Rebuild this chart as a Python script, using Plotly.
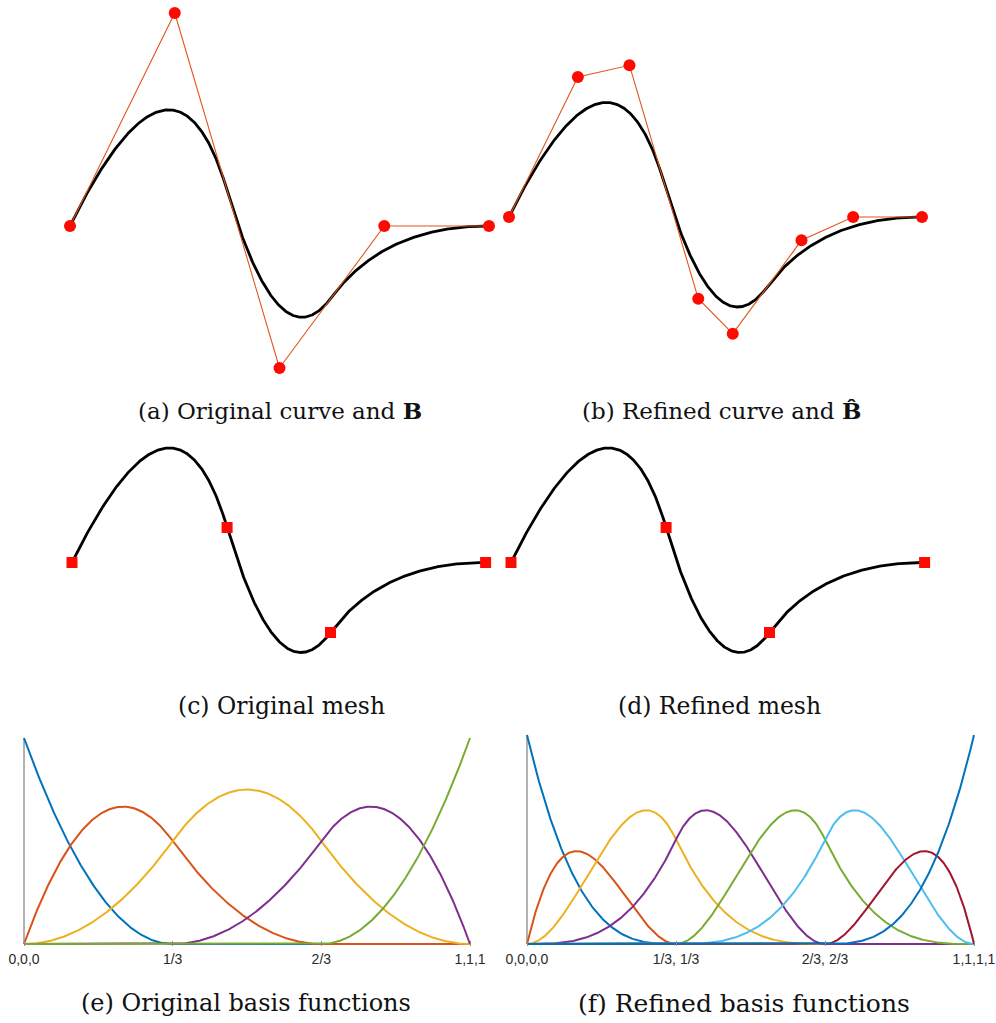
import numpy as np
import plotly.graph_objects as go

W, H = 996, 1023

# Original quadratic B-spline: knot vector and control points B
knots_orig = [0, 0, 0, 1/3, 2/3, 1, 1, 1]
ctrl_x_orig = [0, 1, 2, 3, 4]
ctrl_y_orig = [0, 3, -2, 0, 0]

# Degree-elevated (cubic) B-spline: knot vector and control points B-hat
knots_ref = [0, 0, 0, 0, 1/3, 1/3, 2/3, 2/3, 1, 1, 1, 1]
ctrl_x_ref = [0, 0.667, 1.167, 1.833, 2.167, 2.833, 3.333, 4]
ctrl_y_ref = [0, 2.0, 2.167, -1.167, -1.667, -0.333, 0, 0]

tick_vals = [0, 1/3, 2/3, 1]
tick_text_orig = ["0,0,0", "1/3", "2/3", "1,1,1"]
tick_text_ref = ["0,0,0,0", "1/3, 1/3", "2/3, 2/3", "1,1,1,1"]

captions = ["(a) Original curve and <b>B</b>", "(b) Refined curve and <b>B\u0302</b>",
            "(c) Original mesh", "(d) Refined mesh",
            "(e) Original basis functions", "(f) Refined basis functions"]

palette = ["#0072BD", "#D95319", "#EDB120", "#7E2F8E", "#77AC30", "#4DBEEE", "#A2142F"]


def bspline_basis(knots, p, u):
    """Cox-de Boor recursion; returns array (n_basis, len(u))."""
    t = np.asarray(knots, float)
    u = np.asarray(u, float)
    m = len(t) - 1
    N = np.zeros((m, u.size))
    for i in range(m):
        if t[i] < t[i + 1]:
            N[i] = ((u >= t[i]) & (u < t[i + 1])).astype(float)
    last = max(i for i in range(m) if t[i] < t[i + 1])
    N[last, u >= t[-1]] = 1.0
    for k in range(1, p + 1):
        Nk = np.zeros((m - k, u.size))
        for i in range(m - k):
            d1 = t[i + k] - t[i]
            if d1 > 0:
                Nk[i] += (u - t[i]) / d1 * N[i]
            d2 = t[i + k + 1] - t[i + 1]
            if d2 > 0:
                Nk[i] += (t[i + k + 1] - u) / d2 * N[i + 1]
        N = Nk
    return N


def curve(knots, cx, cy, u):
    p = len(knots) - len(cx) - 1
    N = bspline_basis(knots, p, u)
    return np.asarray(cx) @ N, np.asarray(cy) @ N


u = np.linspace(0, 1, 601)
mesh_u = np.array(sorted(set(knots_orig)))
mesh_u_ref = np.array(sorted(set(knots_ref)))

fig = go.Figure()
layout = {}


def place(idx, box, origin, scale, visible=False):
    L, R, T, B = box
    x0, y0 = origin
    sx, sy = scale
    sfx = "" if idx == 1 else str(idx)
    layout["xaxis" + sfx] = dict(domain=[L / W, R / W], range=[(L - x0) / sx, (R - x0) / sx],
                                 visible=visible, showgrid=False, zeroline=False, automargin=False,
                                 anchor="y" + sfx, fixedrange=True)
    layout["yaxis" + sfx] = dict(domain=[1 - B / H, 1 - T / H], range=[(y0 - B) / sy, (y0 - T) / sy],
                                 visible=False, showgrid=False, zeroline=False, automargin=False,
                                 anchor="x" + sfx, fixedrange=True)
    return "x" + sfx, "y" + sfx


CURVE = dict(color="black", width=2.8)
POLY = dict(color="#e0561c", width=1.1)
DOT = dict(color="#ff0a00", size=12, line=dict(width=0))
SQUARE = dict(symbol="square", color="#ff0a00", size=11, line=dict(width=0))

# (a) original curve with control polygon
xa, ya = place(1, (30, 499, 0, 385), (70, 226), (104.75, 71))
cx, cy = curve(knots_orig, ctrl_x_orig, ctrl_y_orig, u)
fig.add_trace(go.Scatter(x=cx, y=cy, mode="lines", line=CURVE, xaxis=xa, yaxis=ya))
fig.add_trace(go.Scatter(x=ctrl_x_orig, y=ctrl_y_orig, mode="lines+markers", line=POLY,
                         marker=DOT, xaxis=xa, yaxis=ya))

# (b) refined curve with refined control polygon
xb, yb = place(2, (499, 970, 0, 385), (509, 217), (103.25, 70))
rx, ry = curve(knots_ref, ctrl_x_ref, ctrl_y_ref, u)
fig.add_trace(go.Scatter(x=rx, y=ry, mode="lines", line=CURVE, xaxis=xb, yaxis=yb))
fig.add_trace(go.Scatter(x=ctrl_x_ref, y=ctrl_y_ref, mode="lines+markers", line=POLY,
                         marker=DOT, xaxis=xb, yaxis=yb))

# (c) original mesh
xc, yc = place(3, (30, 499, 425, 690), (72, 562.5), (103.4, 70))
mx, my = curve(knots_orig, ctrl_x_orig, ctrl_y_orig, mesh_u)
fig.add_trace(go.Scatter(x=cx, y=cy, mode="lines", line=CURVE, xaxis=xc, yaxis=yc))
fig.add_trace(go.Scatter(x=mx, y=my, mode="markers", marker=SQUARE, xaxis=xc, yaxis=yc))

# (d) refined mesh
xd, yd = place(4, (499, 970, 425, 690), (511, 562.5), (103.4, 70))
mrx, mry = curve(knots_ref, ctrl_x_ref, ctrl_y_ref, mesh_u_ref)
fig.add_trace(go.Scatter(x=rx, y=ry, mode="lines", line=CURVE, xaxis=xd, yaxis=yd))
fig.add_trace(go.Scatter(x=mrx, y=mry, mode="markers", marker=SQUARE, xaxis=xd, yaxis=yd))


def basis_panel(idx, box, origin, scale, knots, p, ticktext):
    xk, yk = place(idx, box, origin, scale, visible=True)
    sfx = "" if idx == 1 else str(idx)
    layout["xaxis" + sfx].update(showline=False, ticks="inside", ticklen=5, tickwidth=1,
                                 tickcolor="#8c8c8c", tickvals=tick_vals, ticktext=ticktext,
                                 ticklabelstandoff=3,
                                 tickfont=dict(family="Liberation Sans", size=14, color="#2a2a2a"),
                                 showticklabels=True)
    layout.setdefault("shapes", []).append(dict(type="line", xref=xk, yref=yk, x0=0, x1=0, y0=0, y1=1,
                                                line=dict(color="#999999", width=1.5), layer="below"))
    N = bspline_basis(knots, p, u)
    for i in range(N.shape[0]):
        fig.add_trace(go.Scatter(x=u, y=N[i], mode="lines",
                                 line=dict(color=palette[i % len(palette)], width=2),
                                 xaxis=xk, yaxis=yk))


basis_panel(5, (14, 482, 731, 946), (24, 944), (446, 206), knots_orig, 2, tick_text_orig)
basis_panel(6, (517, 986, 728, 946), (527, 944), (447, 209), knots_ref, 3, tick_text_ref)

# caption placement: (x, y, anchor, font size)
cap_pos = [(280, 410, "center", 23), (863, 410, "right", 23),
           (281, 706, "center", 23.5), (719, 706, "center", 23.5),
           (246, 1003, "center", 24), (744, 1003, "center", 25)]
layout["annotations"] = [
    dict(text=t, x=px / W, y=1 - py / H, xref="paper", yref="paper", showarrow=False,
         xanchor=anc, yanchor="middle",
         font=dict(family="DejaVu Serif", size=fs, color="#111111"))
    for t, (px, py, anc, fs) in zip(captions, cap_pos)
]

fig.update_layout(**layout)
fig.update_layout(width=W, height=H, margin=dict(l=0, r=0, t=0, b=0, autoexpand=False),
                  paper_bgcolor="white", plot_bgcolor="rgba(0,0,0,0)", showlegend=False)

fig.write_html("out.html")
